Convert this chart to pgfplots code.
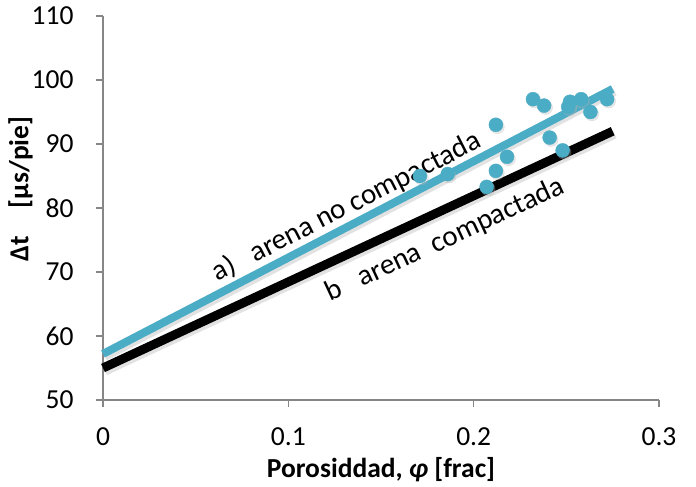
\documentclass[border=0pt]{standalone}
\usepackage{pgfplots}
\pgfplotsset{compat=1.18}
\usepackage{fontspec}
\setmainfont{Carlito}
\definecolor{aqua}{HTML}{4BACC6}
\definecolor{axgray}{HTML}{868686}
\begin{document}
\begin{tikzpicture}[x=1pt,y=1pt]
\begin{axis}[
  at={(0,0)}, anchor=south west,
  width=556pt, height=384pt, scale only axis,
  xmin=0, xmax=0.3, ymin=50, ymax=110,
  xtick={0,0.1,0.2,0.3}, ytick={50,60,70,80,90,100,110},
  axis x line*=bottom, axis y line*=left,
  axis line style={axgray, line width=1.3pt},
  tick style={axgray, line width=1.3pt},
  tick align=outside, major tick length=7pt,
  font=\fontsize{27.5}{33}\selectfont,
  /pgf/number format/assume math mode=true,
  xticklabel style={/pgf/number format/fixed, yshift=-17pt},
  yticklabel style={xshift=-19pt},
  xlabel={\bfseries Porosiddad, {\itshape φ} [frac]},
  xlabel style={yshift=-5pt},
  ylabel={\bfseries Δt\quad [µs/pie]},
  ylabel style={at={(ticklabel cs:0.55)}, yshift=-8pt},
  clip=false,
]
% shadows
\addplot[gray!50, opacity=0.45, line width=8pt, xshift=2pt, yshift=-3pt] coordinates {(0,57.2) (0.275,98.6)};
\addplot[gray!50, opacity=0.45, line width=9pt, xshift=2pt, yshift=-3pt] coordinates {(0,55) (0.275,92.0)};
% lines
\addplot[aqua, line width=8pt] coordinates {(0,57.2) (0.275,98.6)};
\addplot[black, line width=9pt] coordinates {(0,55) (0.275,92.0)};
% data shadows
\addplot[gray!60, only marks, mark=*, mark size=7pt, mark options={fill=gray!60, draw=none, opacity=0.3}, xshift=1.5pt, yshift=-2pt] coordinates {
(0.171,85.0) (0.186,85.3) (0.207,83.3) (0.212,85.8) (0.212,93.0) (0.218,88.0)
(0.232,97.0) (0.238,96.0) (0.241,91.0) (0.248,89.0) (0.252,96.6) (0.251,95.8)
(0.258,97.0) (0.263,95.0) (0.272,97.0)};
\addplot[aqua, only marks, mark=*, mark size=7pt, mark options={fill=aqua, draw=aqua}] coordinates {
(0.171,85.0) (0.186,85.3) (0.207,83.3) (0.212,85.8) (0.212,93.0) (0.218,88.0)
(0.232,97.0) (0.238,96.0) (0.241,91.0) (0.248,89.0) (0.252,96.6) (0.251,95.8)
(0.258,97.0) (0.263,95.0) (0.272,97.0)};
\node[rotate=27, font=\fontsize{29}{34}\selectfont] at (axis cs:0.1314,80.2) {a)\hspace{20pt}arena no compactada};
\node[rotate=25, font=\fontsize{29}{34}\selectfont] at (axis cs:0.1846,75.0) {b\hspace{20pt}arena\hspace{13pt}compactada};
\end{axis}
\pgfresetboundingbox
\path (-103,-87) rectangle (593,400);
\end{tikzpicture}
\end{document}
